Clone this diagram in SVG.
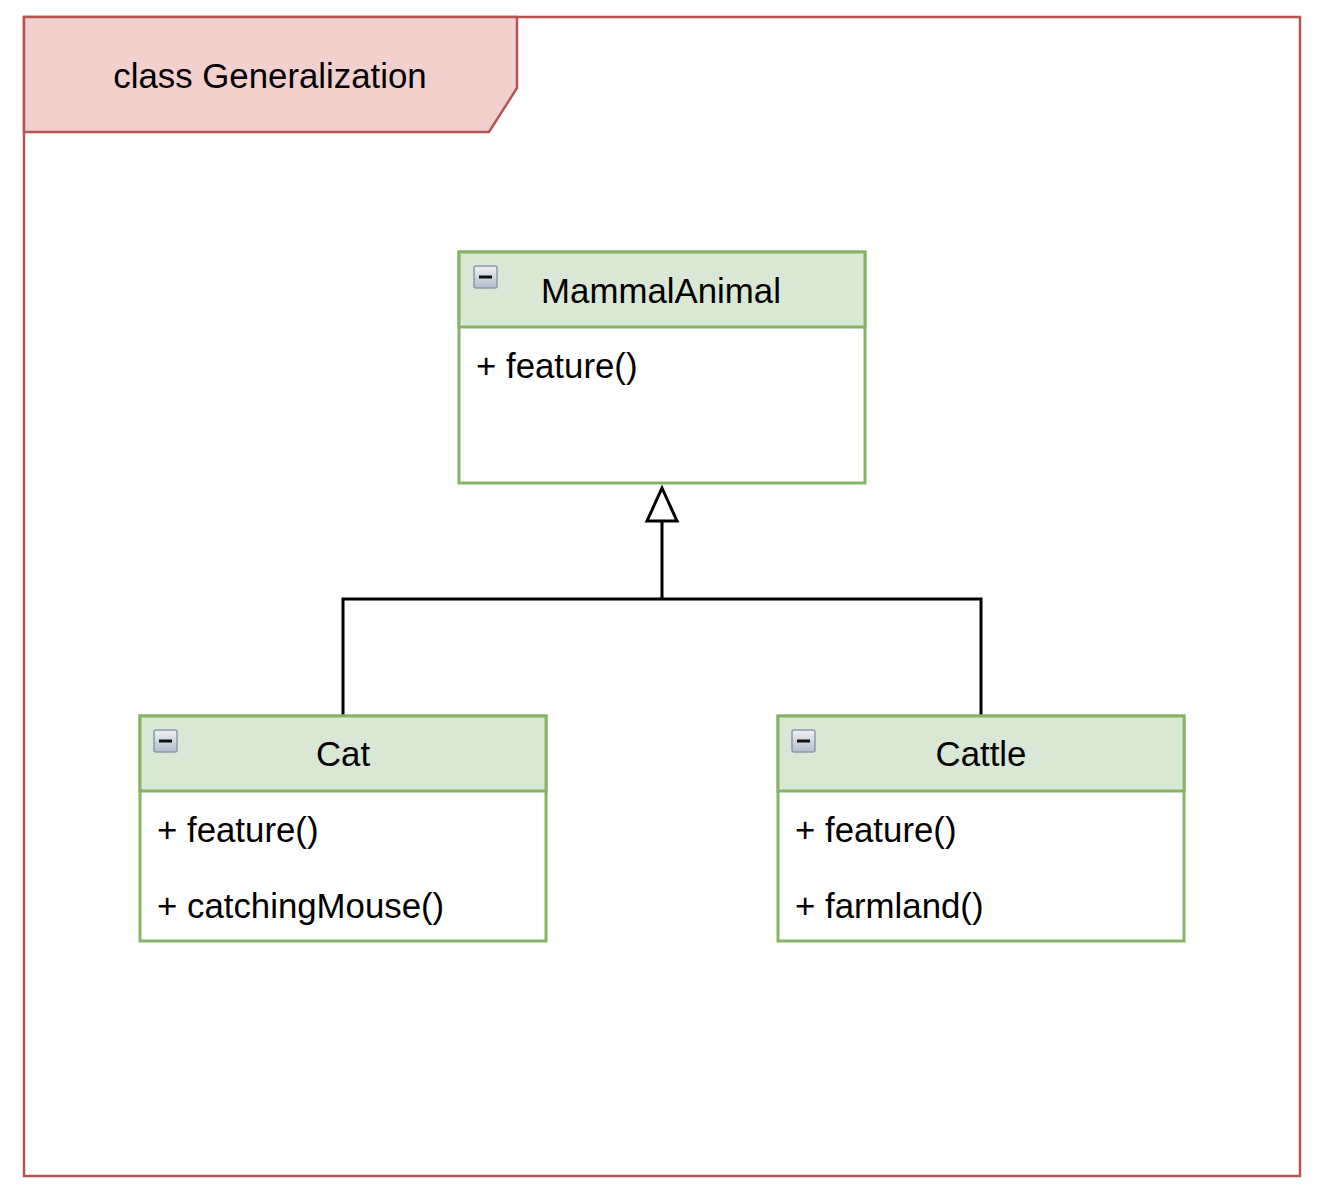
<svg xmlns="http://www.w3.org/2000/svg" width="1320" height="1194" viewBox="0 0 1320 1194">
<style>
text{font-family:"Liberation Sans",Arial,sans-serif;font-size:34.8px;fill:#000}
.frame{fill:#fff;stroke:#b85450;stroke-width:2.5}
.tab{fill:#f2d0ce;stroke:#b85450;stroke-width:2.5}
.hdr{fill:#d9e7d5;stroke:#86b466;stroke-width:3}
.body{fill:#fff;stroke:#86b466;stroke-width:3}
.conn{fill:none;stroke:#000;stroke-width:3}
.mid{text-anchor:middle}
</style>
<defs>
<linearGradient id="ig" x1="0" y1="0" x2="0" y2="1">
<stop offset="0" stop-color="#eef1f6"/><stop offset="1" stop-color="#b4bdca"/>
</linearGradient>
<g id="icon">
<rect x="0" y="0" width="23" height="22" rx="2" fill="url(#ig)" stroke="#8c9bb0" stroke-width="1.5"/>
<rect x="5" y="9.5" width="13" height="3" fill="#111"/>
</g>
</defs>
<g id="frame">
<rect class="frame" x="24" y="17" width="1276" height="1159"/>
<path class="tab" d="M24,17 H517 V88 L489,132 H24 Z"/>
<text x="270" y="88" class="mid">class Generalization</text>
</g>
<g id="connectors">
<path class="conn" d="M343,716 V599 H981 V716"/>
<path class="conn" d="M662,599 V521"/>
<path class="conn" d="M662,488 L677,521 H647 Z" fill="#fff"/>
</g>
<g id="MammalAnimal">
<rect class="body" x="459" y="252" width="406" height="231"/>
<rect class="hdr" x="459" y="252" width="406" height="75"/>
<use href="#icon" x="474" y="266"/>
<text x="661" y="303" class="mid">MammalAnimal</text>
<text x="476" y="378">+ feature()</text>
</g>
<g id="Cat">
<rect class="body" x="140" y="716" width="406" height="225"/>
<rect class="hdr" x="140" y="716" width="406" height="75"/>
<use href="#icon" x="154" y="730"/>
<text x="343" y="766" class="mid">Cat</text>
<text x="157" y="842">+ feature()</text>
<text x="157" y="918">+ catchingMouse()</text>
</g>
<g id="Cattle">
<rect class="body" x="778" y="716" width="406" height="225"/>
<rect class="hdr" x="778" y="716" width="406" height="75"/>
<use href="#icon" x="792" y="730"/>
<text x="981" y="766" class="mid">Cattle</text>
<text x="795" y="842">+ feature()</text>
<text x="795" y="918">+ farmland()</text>
</g>
</svg>
